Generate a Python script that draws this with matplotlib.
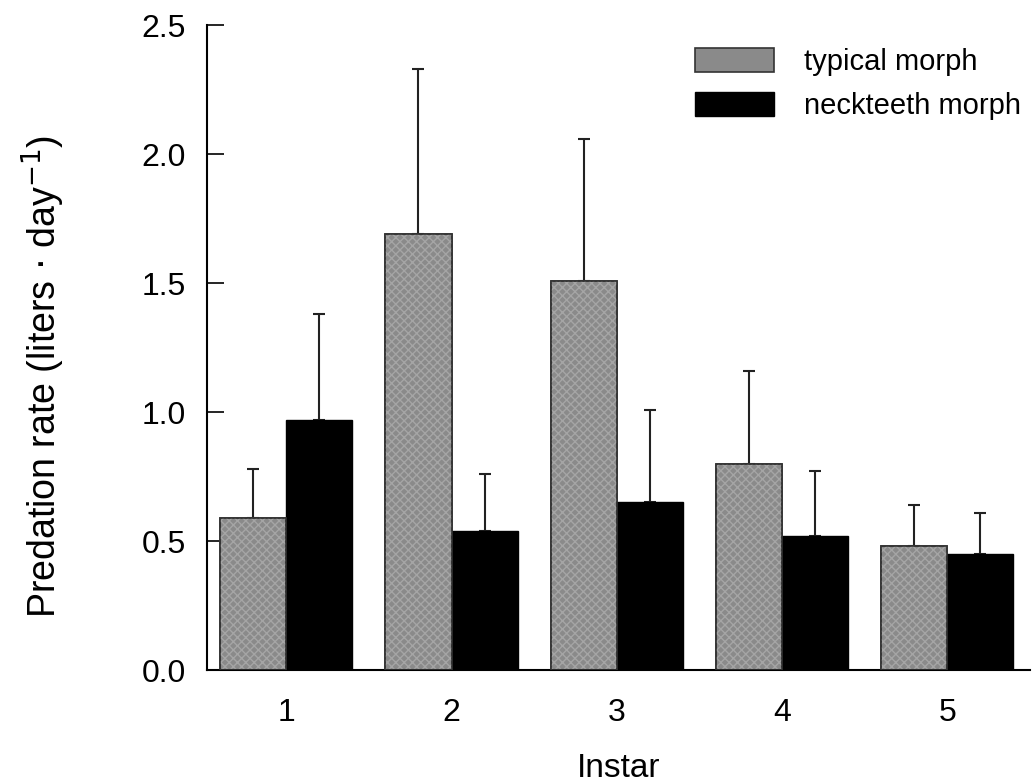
import numpy as np
import matplotlib
matplotlib.use("Agg")
import matplotlib.pyplot as plt

plt.rcParams['font.family'] = ['Liberation Sans', 'DejaVu Sans']

# values
instars = [1, 2, 3, 4, 5]
typical = [0.59, 1.69, 1.51, 0.80, 0.48]
typical_err = [0.19, 0.64, 0.55, 0.36, 0.16]
neckteeth = [0.97, 0.54, 0.65, 0.52, 0.45]
neckteeth_err = [0.41, 0.22, 0.36, 0.25, 0.16]

x = np.array(instars, dtype=float)
w = 0.4

fig = plt.figure(figsize=(10.35, 7.82), dpi=100)
ax = fig.add_axes([0.2, 0.143, 0.795, 0.825])

# gray bars with a fine texture laid over them
b1 = ax.bar(x - w / 2, typical, w, color='#8a8a8a', edgecolor='#333333',
            linewidth=1.2, label='typical morph', zorder=2)
ax.bar(x - w / 2, typical, w, fill=False, hatch='xxxx', edgecolor='#a5a5a5',
       linewidth=0, zorder=2.5)
ax.bar(x - w / 2, typical, w, fill=False, edgecolor='#333333', linewidth=1.2, zorder=2.6)
b2 = ax.bar(x + w / 2, neckteeth, w, color='black', edgecolor='black',
            linewidth=1.0, label='neckteeth morph', zorder=2)

ax.errorbar(x - w / 2, typical, yerr=[np.zeros(5), typical_err], fmt='none',
            ecolor='#222222', elinewidth=1.5, capsize=4, capthick=1.5, zorder=1)
ax.errorbar(x + w / 2, neckteeth, yerr=[np.zeros(5), neckteeth_err], fmt='none',
            ecolor='#222222', elinewidth=1.5, capsize=4, capthick=1.5, zorder=1)

ax.set_xlim(0.52, 5.5)
ax.set_ylim(0, 2.5)
ax.set_yticks([0.0, 0.5, 1.0, 1.5, 2.0, 2.5])
ax.set_yticklabels(['0.0', '0.5', '1.0', '1.5', '2.0', '2.5'])
ax.set_xticks(instars)
ax.tick_params(axis='y', direction='in', length=12, width=1.2, labelsize=23, pad=15)
ax.tick_params(axis='x', length=0, labelsize=23, pad=20)

for s in ['top', 'right']:
    ax.spines[s].set_visible(False)
ax.spines['left'].set_linewidth(1.5)
ax.spines['bottom'].set_linewidth(1.5)

ax.set_xlabel('Instar', fontsize=24, labelpad=18)
ax.set_ylabel('Predation rate (liters $\\cdot$ day$^{-1}$)', fontsize=27)
ax.yaxis.set_label_coords(-0.17, 0.456)

ax.legend(handles=[b1, b2], loc='upper left', bbox_to_anchor=(695 / 1035, 1 - 48 / 782),
          bbox_transform=fig.transFigure, frameon=False, fontsize=21,
          handlelength=2.7, handleheight=0.9, handletextpad=1.05, labelspacing=0.55,
          borderpad=0, borderaxespad=0)

fig.savefig('out.png', dpi=100)
